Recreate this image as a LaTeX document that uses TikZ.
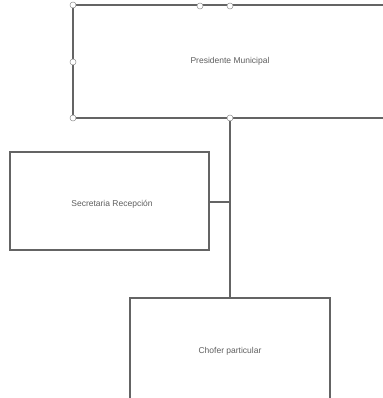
\documentclass[tikz,border=0pt]{standalone}
\usepackage{fontspec}
\setmainfont{Liberation Sans}
\definecolor{linegray}{RGB}{100,100,100}
\definecolor{textgray}{RGB}{95,95,95}
\begin{document}
\begin{tikzpicture}[x=1pt,y=-1pt,
  box/.style={draw=linegray,line width=1.2pt,fill=white},
  lbl/.style={font=\fontsize{8.5}{10}\selectfont,text=textgray,inner sep=0pt},
  link/.style={draw=linegray,line width=1.2pt},
  handle/.style={circle,draw=linegray!70,fill=white,line width=0.5pt,minimum size=6pt,inner sep=0pt}]
  \useasboundingbox[fill=white] (0,0) rectangle (382,398);
  % boxes (top and bottom ones run past the page edge)
  \draw[box] (73,5) rectangle (392,118);
  \draw[box] (10,152) rectangle (209,250);
  \draw[box] (130,298) rectangle (330,410);
  \node[lbl] (pres) at (230,61) {Presidente Municipal};
  \node[lbl] (sec) at (112,204) {Secretaria Recepción};
  \node[lbl] (chof) at (230,351) {Chofer particular};
  % connector anchors
  \coordinate (pb) at (230,118);
  \coordinate (ct) at (230,298);
  \coordinate (sr) at (209,202);
  \coordinate (jn) at (230,202);
  \draw[link] (pb) -- (ct);
  \draw[link] (sr) -- (jn);
  % selection handles
  \node[handle] (h1) at (73,5) {};
  \node[handle] (h2) at (200,6) {};
  \node[handle] (h3) at (230,6) {};
  \node[handle] (h4) at (73,62) {};
  \node[handle] (h5) at (73,118) {};
  \node[handle] (h6) at (230,118) {};
\end{tikzpicture}
\end{document}
